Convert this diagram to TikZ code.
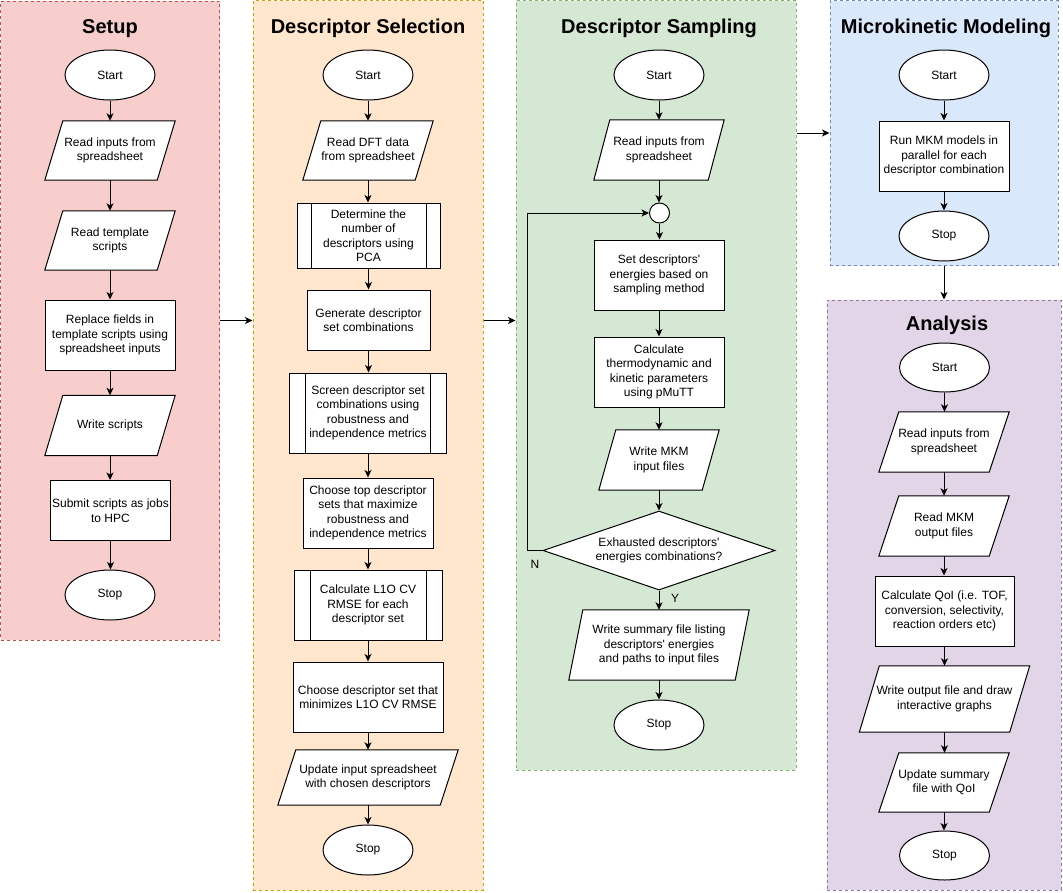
\documentclass[tikz,border=0pt]{standalone}
\usepackage{fontspec}
\setmainfont{Liberation Sans}[Ligatures=TeXOff]
\usetikzlibrary{shapes.geometric,arrows.meta}
\definecolor{redF}{HTML}{F8CECC}\definecolor{redS}{HTML}{B85450}
\definecolor{orgF}{HTML}{FFE6CC}\definecolor{orgS}{HTML}{D79B00}
\definecolor{grnF}{HTML}{D5E8D4}\definecolor{grnS}{HTML}{82B366}
\definecolor{bluF}{HTML}{DAE8FC}\definecolor{bluS}{HTML}{6C8EBF}
\definecolor{purF}{HTML}{E1D5E7}\definecolor{purS}{HTML}{9673A6}
\pgfdeclarelayer{back}\pgfdeclarelayer{bg}
\pgfsetlayers{back,bg,main}
\begin{document}
\begin{tikzpicture}[x=1pt,y=-1pt,
  font=\fontsize{12}{14.5}\selectfont,
  every node/.style={align=center, inner sep=0pt, text=black},
  box/.style={draw, line width=1pt, fill=white},
  term/.style={box, ellipse, minimum width=90pt, minimum height=50pt},
  proc/.style={box, rectangle},
  io/.style={rectangle},
  pshape/.style={draw, line width=1pt, fill=white, line join=miter},
  subproc/.style={proc, path picture={
     \draw[line width=1pt] ([xshift=#1]path picture bounding box.north west) -- ([xshift=#1]path picture bounding box.south west);
     \draw[line width=1pt] ([xshift=-#1]path picture bounding box.north east) -- ([xshift=-#1]path picture bounding box.south east);}},
  subproc/.default=15pt,
  arr/.style={line width=1pt, -{Stealth[length=7.5pt,width=7pt,inset=2pt]}},
  cont/.style={draw, rectangle, dash pattern=on 3pt off 3pt, line width=1pt},
  ttl/.style={anchor=base, font=\fontsize{20}{24}\selectfont\bfseries}
]
\useasboundingbox (0,0) rectangle (1063,892);
% containers
\begin{pgfonlayer}{back}
\node[cont, draw=redS, fill=redF, minimum width=219pt, minimum height=639pt] (cs) at (110,320.5) {};
\node[cont, draw=orgS, fill=orgF, minimum width=230pt, minimum height=889.5pt] (cd) at (368,445.25) {};
\node[cont, draw=grnS, fill=grnF, minimum width=280pt, minimum height=769.5pt] (cg) at (656,385.25) {};
\node[cont, draw=bluS, fill=bluF, minimum width=228pt, minimum height=265pt] (cm) at (944,133) {};
\node[cont, draw=purS, fill=purF, minimum width=234pt, minimum height=590pt] (ca) at (944,595) {};
\end{pgfonlayer}
\draw[arr] (cs.east) -- (cs.east -| cd.west);
\draw[arr] (cd.east |- cs.east) -- (cg.west |- cs.east);
\draw[arr] (cg.east |- cm.west) -- (cm.west);
\draw[arr] (cm.south) -- (ca.north);
% Setup
\node[ttl] (ts) at (110,33) {Setup};
\node[term] (s1) at (110,75) {Start};
\node[io, minimum width=130pt, minimum height=59pt] (s2) at (110,150.5) {Read inputs from\\spreadsheet};
\node[io, minimum width=130pt, minimum height=59pt] (s3) at (110,240.5) {Read template\\scripts};
\node[proc, minimum width=130pt, minimum height=70pt] (s4) at (110,335) {Replace fields in\\template scripts using\\spreadsheet inputs};
\node[io, minimum width=130pt, minimum height=60pt] (s5) at (110,425.5) {Write scripts};
\node[proc, minimum width=120pt, minimum height=60pt] (s6) at (110.5,510.5) {Submit scripts as jobs\\to HPC};
\node[term] (s7) at (110,595) {Stop};
% Descriptor Selection
\node[ttl] (td) at (368,33) {Descriptor Selection};
\node[term] (d1) at (368,75) {Start};
\node[io, minimum width=130pt, minimum height=59pt] (d2) at (368,150.5) {Read DFT data\\from spreadsheet};
\node[subproc=14pt, minimum width=143pt, minimum height=65pt] (d3) at (368.5,235.5) {Determine the\\number of\\descriptors using\\PCA};
\node[proc, minimum width=123pt, minimum height=60pt] (d4) at (368.5,320) {Generate descriptor\\set combinations};
\node[subproc=16pt, minimum width=157pt, minimum height=80pt] (d5) at (368,413) {Screen descriptor set\\combinations using\\robustness and\\independence metrics};
\node[proc, minimum width=130pt, minimum height=70pt] (d6) at (368,513) {Choose top descriptor\\sets that maximize\\robustness and\\independence metrics};
\node[subproc=16pt, minimum width=148pt, minimum height=70pt] (d7) at (368,605) {Calculate L1O CV\\RMSE for each\\descriptor set};
\node[proc, minimum width=150pt, minimum height=70pt] (d8) at (368,697) {Choose descriptor set that\\minimizes L1O CV RMSE};
\node[io, minimum width=180pt, minimum height=55pt] (d9) at (368,777.5) {Update input spreadsheet\\with chosen descriptors};
\node[term] (d10) at (368,850) {Stop};
% Descriptor Sampling
\node[ttl] (tg) at (659,33) {Descriptor Sampling};
\node[term] (g1) at (659,75) {Start};
\node[io, minimum width=130pt, minimum height=60pt] (g2) at (659,150) {Read inputs from\\spreadsheet};
\node[box, circle, minimum size=20pt] (g3) at (659.5,213) {};
\node[proc, minimum width=130pt, minimum height=70pt] (g4) at (659,275) {Set descriptors'\\energies based on\\sampling method};
\node[proc, minimum width=130pt, minimum height=70pt] (g5) at (659,372) {Calculate\\thermodynamic and\\kinetic parameters\\using pMuTT};
\node[io, minimum width=120pt, minimum height=60pt] (g6) at (659,460) {Write MKM\\input files};
\node[box, diamond, aspect=2.94, minimum width=232pt, minimum height=79pt] (g7) at (659,550.5) {Exhausted descriptors'\\energies combinations?};
\node[io, minimum width=180pt, minimum height=70pt] (g8) at (659,645) {Write summary file listing\\descriptors' energies\\and paths to input files};
\node[term] (g9) at (659,725) {Stop};
\node (nlab) at (535,564) {N};
\node (ylab) at (675,598) {Y};
% Microkinetic Modeling
\node[ttl] (tm) at (946,33) {Microkinetic Modeling};
\node[term] (m1) at (944,75) {Start};
\node[proc, minimum width=130pt, minimum height=70pt] (m2) at (944,156) {Run MKM models in\\parallel for each\\descriptor combination};
\node[term] (m3) at (944,236) {Stop};
% Analysis
\node[ttl] (ta) at (947,330) {Analysis};
\node[term, minimum height=49pt] (a1) at (944.5,367.5) {Start};
\node[io, minimum width=130pt, minimum height=60pt] (a2) at (944,442) {Read inputs from\\spreadsheet};
\node[io, minimum width=130pt, minimum height=60pt] (a3) at (944,526) {Read MKM\\output files};
\node[proc, minimum width=139pt, minimum height=70pt] (a4) at (944.5,611) {Calculate QoI (i.e. TOF,\\conversion, selectivity,\\reaction orders etc)};
\node[io, minimum width=170pt, minimum height=66pt] (a5) at (944.5,699) {Write output file and draw\\interactive graphs};
\node[io, minimum width=130pt, minimum height=59pt] (a6) at (944,782.5) {Update summary\\file with QoI};
\node[term, minimum height=49pt] (a7) at (944.5,855.5) {Stop};
% parallelogram outlines behind the data nodes
\begin{pgfonlayer}{bg}
\foreach \n/\s in {s2/18,s3/18,s5/18,d2/18,d9/18,g2/16,g6/17,g8/14,a2/20,a3/20,a5/20,a6/20}
  \draw[pshape] ([xshift=\s pt]\n.north west) -- (\n.north east)
     -- ([xshift=-\s pt]\n.south east) -- (\n.south west) -- cycle;
\end{pgfonlayer}
% connectors
\foreach \a/\b in {s1/s2,s2/s3,s3/s4,s4/s5,s5/s6,s6/s7,
  d1/d2,d2/d3,d3/d4,d4/d5,d5/d6,d6/d7,d7/d8,d8/d9,d9/d10,
  g1/g2,g2/g3,g3/g4,g4/g5,g5/g6,g6/g7,g7/g8,g8/g9,
  m1/m2,m2/m3,
  a1/a2,a2/a3,a3/a4,a4/a5,a5/a6,a6/a7}
  \draw[arr] (\a.south) -- (\a.south |- \b.north);
\coordinate (lp) at (527,550.5);
\draw[arr] (g7.west) -- (lp) |- (g3.west);
\end{tikzpicture}
\end{document}
